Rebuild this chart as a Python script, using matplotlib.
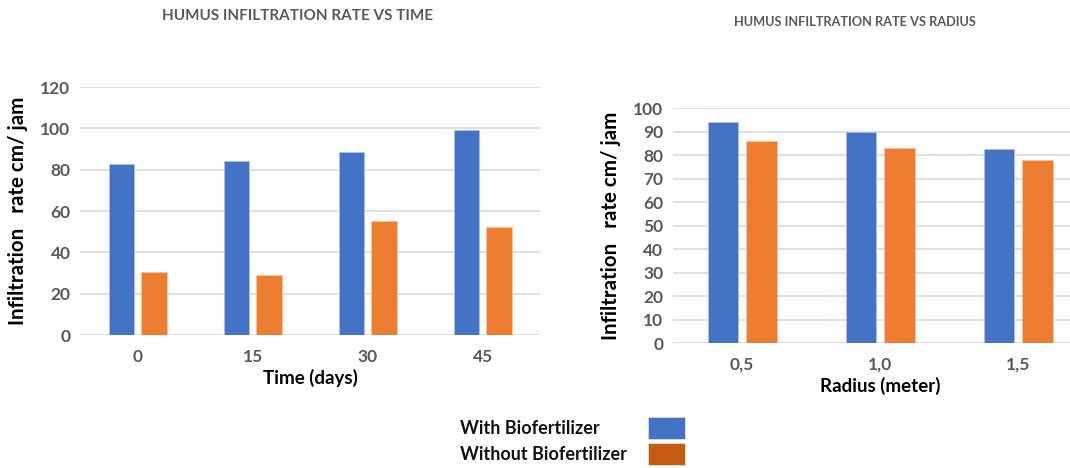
import matplotlib.pyplot as plt
from matplotlib.patches import Rectangle
import numpy as np

plt.rcParams['font.family'] = ['Lato', 'DejaVu Sans']

# left chart: infiltration vs time
days = ['0', '15', '30', '45']
time_with = [83, 84, 88.5, 99]
time_without = [30.5, 29, 55, 52.5]

# right chart: infiltration vs radius
radius = ['0,5', '1,0', '1,5']
rad_with = [94, 90, 82.5]
rad_without = [86, 83, 78]

legend_labels = ['With Biofertilizer', 'Without Biofertilizer']

BLUE = '#4472C4'
ORANGE = '#ED7D31'
DARK_ORANGE = '#C55A11'
GRAY = '#595959'
GRID = '#D9D9D9'

fig = plt.figure(figsize=(10.7, 4.68), dpi=100)


def bar_panel(ax, cats, a, b, ymax, ystep, xlabel):
    x = np.arange(len(cats))
    w = 0.22
    ax.bar(x - 0.14, a, w, color=BLUE, edgecolor='#A9C0E8', linewidth=0.6, zorder=3)
    ax.bar(x + 0.14, b, w, color=ORANGE, edgecolor='#F6C3A0', linewidth=0.6, zorder=3)
    ax.set_xlim(-0.5, len(cats) - 0.5)
    ax.set_ylim(0, ymax)
    ax.set_yticks(np.arange(0, ymax + 1, ystep))
    ax.set_xticks(x)
    ax.set_xticklabels(cats)
    ax.yaxis.grid(True, color=GRID, linewidth=1.2, zorder=0)
    ax.set_axisbelow(True)
    for s in ax.spines.values():
        s.set_visible(False)
    ax.tick_params(length=0, labelsize=12.5, labelcolor=GRAY)
    ax.tick_params(axis='x', pad=10)
    ax.tick_params(axis='y', pad=7)
    for t in ax.get_xticklabels() + ax.get_yticklabels():
        t.set_fontweight('bold')
    ax.set_xlabel(xlabel, fontsize=13.5, fontweight='bold', labelpad=3)
    ax.set_ylabel('Infiltration   rate cm/ jam', fontsize=14.8, fontweight='bold', labelpad=9)


ax1 = fig.add_axes([0.075, 0.284, 0.43, 0.530])
bar_panel(ax1, days, time_with, time_without, 120, 20, 'Time (days)')

ax2 = fig.add_axes([0.629, 0.267, 0.387, 0.502])
bar_panel(ax2, radius, rad_with, rad_without, 100, 10, 'Radius (meter)')

fig.text(297 / 1070, 1 - 16 / 468, 'HUMUS INFILTRATION RATE VS TIME', ha='center', va='center',
         fontsize=11, fontweight='bold', color=GRAY)
fig.text(855 / 1070, 1 - 22 / 468, 'HUMUS INFILTRATION RATE VS RADIUS', ha='center', va='center',
         fontsize=9.2, fontweight='bold', color=GRAY)

# legend drawn by hand: text on the left, colour box on the right
for i, (lab, col) in enumerate(zip(legend_labels, [BLUE, DARK_ORANGE])):
    yc = 1 - (428 + i * 26) / 468
    fig.text(460 / 1070, yc, lab, ha='left', va='center', fontsize=13, fontweight='bold', color='#111111')
    fig.patches.append(Rectangle((648 / 1070, yc - 11 / 468), 37 / 1070, 22 / 468,
                                 transform=fig.transFigure, facecolor=col,
                                 edgecolor='#DDDDDD', linewidth=0.6))

fig.savefig('out.png', dpi=100)
